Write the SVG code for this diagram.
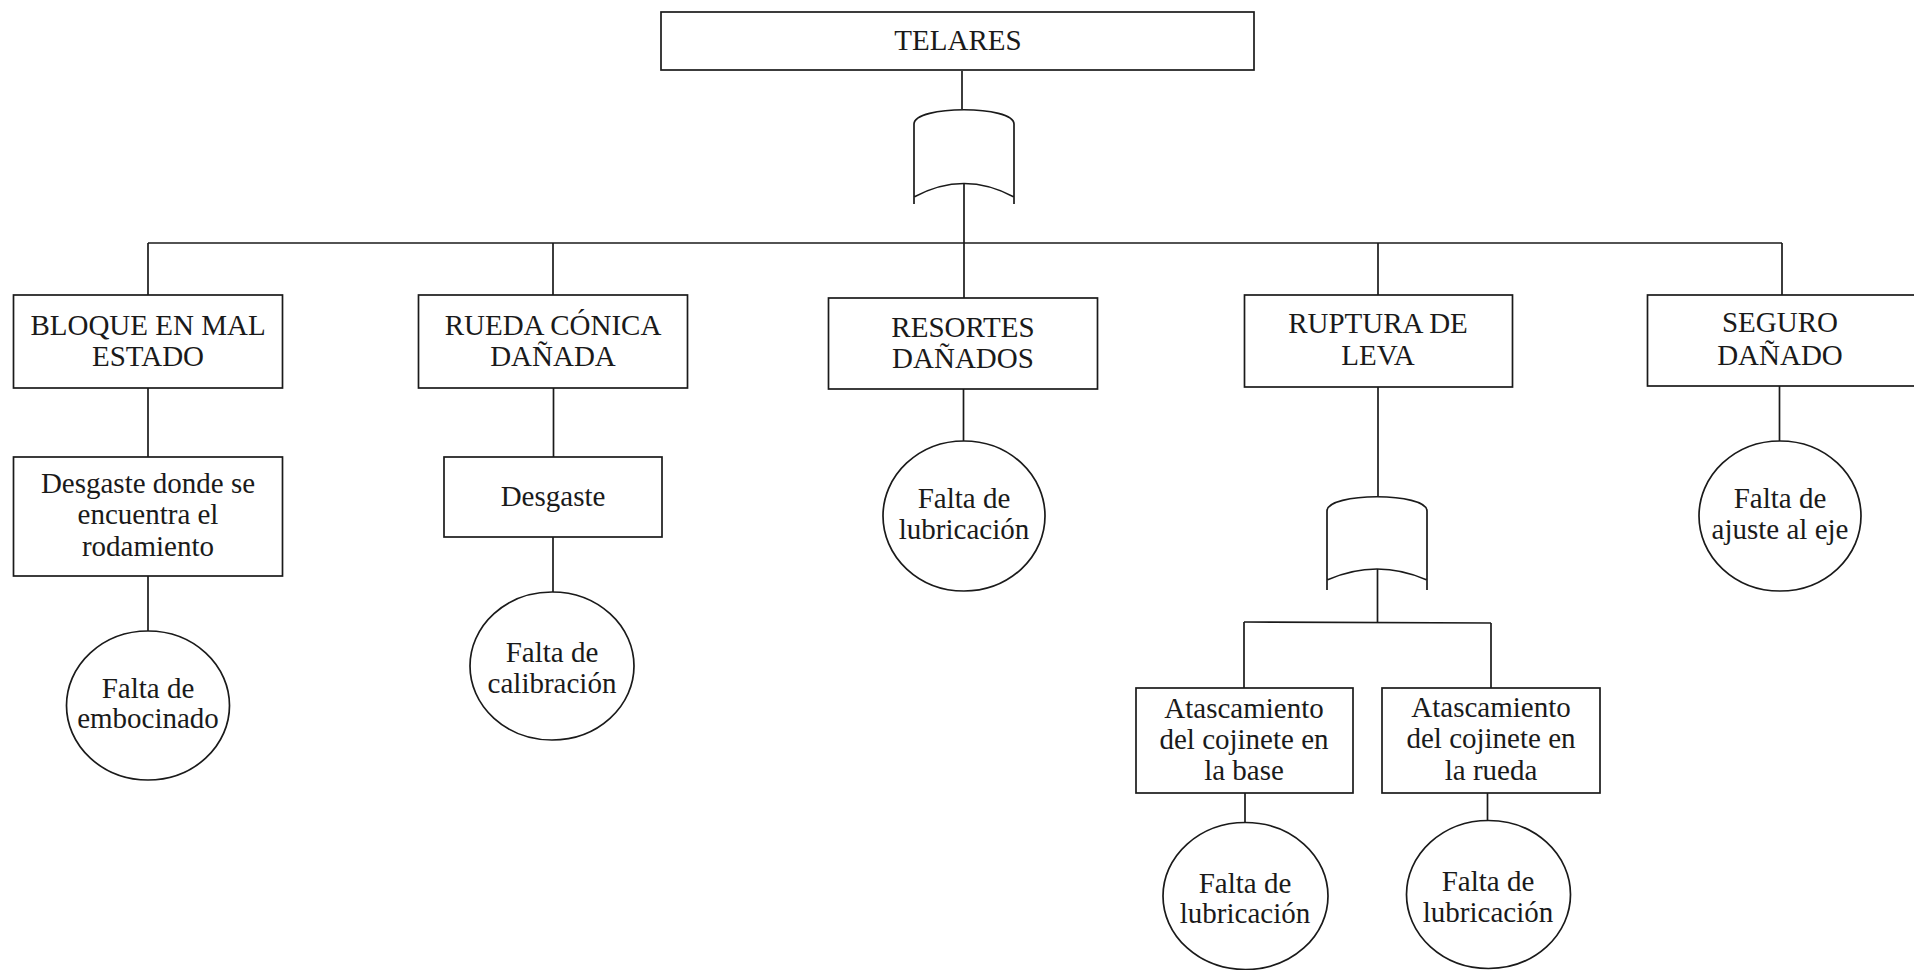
<svg xmlns="http://www.w3.org/2000/svg" width="1914" height="970" viewBox="0 0 1914 970">
  <style>
    .box { fill: #ffffff; stroke: #1a1a1a; stroke-width: 1.7; }
    .gate { fill: none; stroke: #1a1a1a; stroke-width: 1.7; }
    .wire { fill: none; stroke: #1a1a1a; stroke-width: 1.7; }
    .lbl { font-family: 'Liberation Serif', 'DejaVu Serif', serif; font-size: 29px; fill: #1a1a1a; text-anchor: middle; }
  </style>
  <rect width="1914" height="970" fill="#ffffff"/>

  <!-- connectors -->
  <g id="connectors" class="wire">
    <path d="M962,71 V109"/>
    <path d="M964,183 V298"/>
    <path d="M148,243 H1782"/>
    <path d="M148,243 V295"/>
    <path d="M553,243 V295"/>
    <path d="M1378,243 V295"/>
    <path d="M1782,243 V295"/>
    <path d="M148,388 V457"/>
    <path d="M148,576 V631"/>
    <path d="M553.5,388 V457"/>
    <path d="M553,537 V592"/>
    <path d="M963.5,389 V441"/>
    <path d="M1378,387 V496"/>
    <path d="M1377.5,569 V622"/>
    <path d="M1244,622 L1491,623"/>
    <path d="M1244,622 V688"/>
    <path d="M1491,623 V688"/>
    <path d="M1245,793 V822.5"/>
    <path d="M1487.5,793 V820.5"/>
    <path d="M1779.5,386 V441"/>
  </g>

  <g class="lbl" font-family="'Liberation Serif', 'DejaVu Serif', serif">
    <!-- top event -->
    <g id="telares">
      <rect class="box" x="661" y="12" width="593" height="58"/>
      <text x="958" y="50">TELARES</text>
    </g>

    <!-- OR gate under the top event -->
    <g id="gate-telares">
      <path class="gate" d="M914,204 V124 C914,105 1014,105 1014,124 V204 M914,197 Q964,170 1014,197"/>
    </g>

    <!-- first level events -->
    <g id="bloque">
      <rect class="box" x="13.5" y="295" width="269" height="93"/>
      <text x="148" y="335">BLOQUE EN MAL</text>
      <text x="148" y="366">ESTADO</text>
    </g>
    <g id="rueda-conica">
      <rect class="box" x="418.5" y="295" width="269" height="93"/>
      <text x="553" y="335">RUEDA CÓNICA</text>
      <text x="553" y="366">DAÑADA</text>
    </g>
    <g id="resortes">
      <rect class="box" x="828.5" y="298" width="269" height="91"/>
      <text x="963" y="337">RESORTES</text>
      <text x="963" y="368">DAÑADOS</text>
    </g>
    <g id="ruptura-leva">
      <rect class="box" x="1244.5" y="295" width="268" height="92"/>
      <text x="1378" y="333">RUPTURA DE</text>
      <text x="1378" y="365">LEVA</text>
    </g>
    <g id="seguro">
      <rect class="box" x="1647.5" y="295" width="280" height="91"/>
      <text x="1780" y="332">SEGURO</text>
      <text x="1780" y="365">DAÑADO</text>
    </g>

    <!-- intermediate events -->
    <g id="desgaste-rodamiento">
      <rect class="box" x="13.5" y="457" width="269" height="119"/>
      <text x="148" y="493">Desgaste donde se</text>
      <text x="148" y="524">encuentra el</text>
      <text x="148" y="556">rodamiento</text>
    </g>
    <g id="desgaste">
      <rect class="box" x="444" y="457" width="218" height="80"/>
      <text x="553" y="506">Desgaste</text>
    </g>

    <!-- OR gate under RUPTURA DE LEVA -->
    <g id="gate-leva">
      <path class="gate" d="M1327,590 V511 C1327,492 1427,492 1427,511 V590 M1327,580 Q1377,558 1427,580"/>
    </g>

    <g id="atascamiento-base">
      <rect class="box" x="1136" y="688" width="217" height="105"/>
      <text x="1244" y="718">Atascamiento</text>
      <text x="1244" y="749">del cojinete en</text>
      <text x="1244" y="780">la base</text>
    </g>
    <g id="atascamiento-rueda">
      <rect class="box" x="1382" y="688" width="218" height="105"/>
      <text x="1491" y="717">Atascamiento</text>
      <text x="1491" y="748">del cojinete en</text>
      <text x="1491" y="780">la rueda</text>
    </g>

    <!-- basic events -->
    <g id="falta-embocinado">
      <ellipse class="box" cx="148" cy="705.5" rx="81.5" ry="74.5"/>
      <text x="148" y="698">Falta de</text>
      <text x="148" y="728">embocinado</text>
    </g>
    <g id="falta-calibracion">
      <ellipse class="box" cx="552" cy="666" rx="82" ry="74"/>
      <text x="552" y="662">Falta de</text>
      <text x="552" y="693">calibración</text>
    </g>
    <g id="falta-lubricacion-resortes">
      <ellipse class="box" cx="964" cy="516" rx="81" ry="75"/>
      <text x="964" y="508">Falta de</text>
      <text x="964" y="539">lubricación</text>
    </g>
    <g id="falta-ajuste">
      <ellipse class="box" cx="1780" cy="516" rx="81" ry="75"/>
      <text x="1780" y="508">Falta de</text>
      <text x="1780" y="539">ajuste al eje</text>
    </g>
    <g id="falta-lubricacion-base">
      <ellipse class="box" cx="1245.5" cy="896" rx="82.5" ry="73.5"/>
      <text x="1245" y="893">Falta de</text>
      <text x="1245" y="923">lubricación</text>
    </g>
    <g id="falta-lubricacion-rueda">
      <ellipse class="box" cx="1488.5" cy="894.5" rx="82" ry="74"/>
      <text x="1488" y="891">Falta de</text>
      <text x="1488" y="922">lubricación</text>
    </g>
  </g>
</svg>
